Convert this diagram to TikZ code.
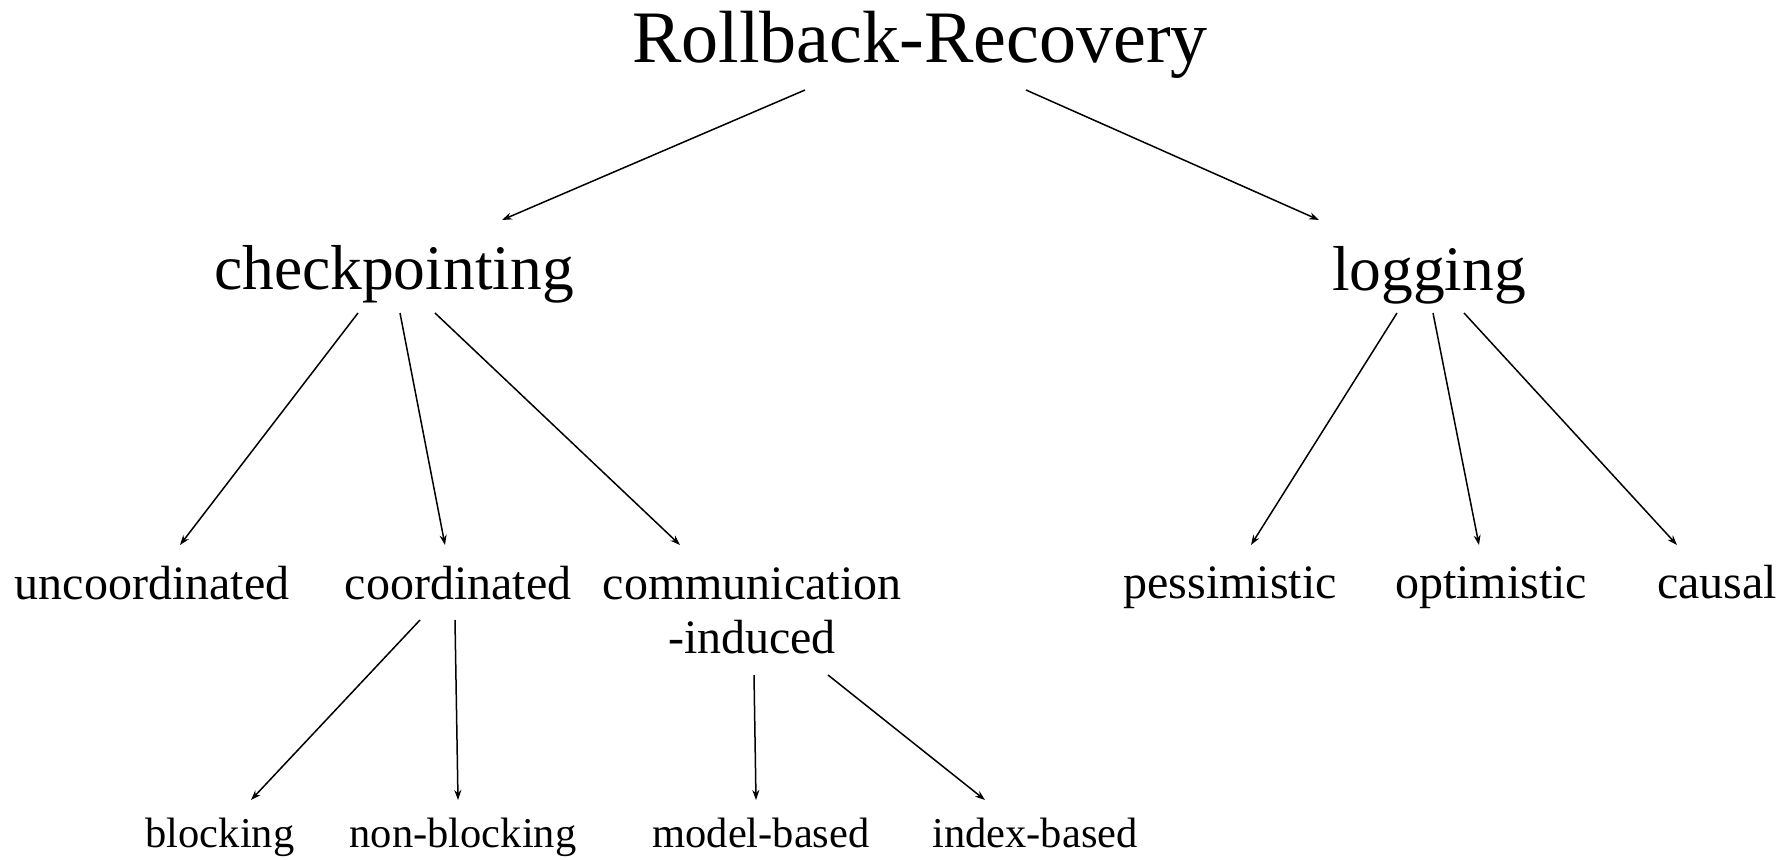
\documentclass[tikz,border=0pt]{standalone}
\usepackage{fontspec}
\setmainfont{Liberation Serif}
\usetikzlibrary{arrows.meta}
\tikzset{
  lvl0/.style={anchor=base, inner sep=0pt, font=\fontsize{74}{80}\selectfont},
  lvl1/.style={anchor=base, inner sep=0pt, font=\fontsize{63.5}{70}\selectfont},
  lvl2/.style={anchor=base, inner sep=0pt, align=center, font=\fontsize{48}{54}\selectfont},
  lvl3/.style={anchor=base, inner sep=0pt, font=\fontsize{42.5}{48}\selectfont},
  arr/.style={line width=1.5pt, -{Stealth[length=10pt,width=7pt]}}
}
\begin{document}
\begin{tikzpicture}[x=1pt, y=-1pt]
\useasboundingbox (0,0) rectangle (1790,859);

% tree levels
\node[lvl0] (root) at (920,63) {Rollback-Recovery};

\node[lvl1] (chk) at (394,289) {checkpointing};
\node[lvl1] (log) at (1429,290) {logging};

\node[lvl2] (unc) at (152,599) {uncoordinated};
\node[lvl2] (coo) at (458,599) {coordinated};
% two-line label: its base anchor sits on the second line
\node[lvl2] (com) at (752,653) {communication\\-induced};
\node[lvl2] (pes) at (1230,598) {pessimistic};
\node[lvl2] (opt) at (1491,598) {optimistic};
\node[lvl2] (cau) at (1717,598) {causal};

\node[lvl3] (blk) at (220,847) {blocking};
\node[lvl3] (nbl) at (463,847) {non-blocking};
\node[lvl3] (mdl) at (761,847) {model-based};
\node[lvl3] (idx) at (1035,847) {index-based};

% connectors
\draw[arr] ([shift={(-115,27)}]root.base) -- ([shift={(108,-69)}]chk.base);
\draw[arr] ([shift={(106,27)}]root.base) -- ([shift={(-110,-70)}]log.base);

\draw[arr] ([shift={(-36,24)}]chk.base) -- ([shift={(28,-54)}]unc.base);
\draw[arr] ([shift={(6,24)}]chk.base) -- ([shift={(-13,-54)}]coo.base);
\draw[arr] ([shift={(41,24)}]chk.base) -- ([shift={(-72,-108)}]com.base);

\draw[arr] ([shift={(-32,23)}]log.base) -- ([shift={(21,-53)}]pes.base);
\draw[arr] ([shift={(4,23)}]log.base) -- ([shift={(-12,-53)}]opt.base);
\draw[arr] ([shift={(35,23)}]log.base) -- ([shift={(-40,-53)}]cau.base);

\draw[arr] ([shift={(-38,21)}]coo.base) -- ([shift={(31,-47)}]blk.base);
\draw[arr] ([shift={(-3,21)}]coo.base) -- ([shift={(-5,-47)}]nbl.base);

\draw[arr] ([shift={(2,22)}]com.base) -- ([shift={(-5,-47)}]mdl.base);
\draw[arr] ([shift={(76,22)}]com.base) -- ([shift={(-50,-47)}]idx.base);
\end{tikzpicture}
\end{document}
